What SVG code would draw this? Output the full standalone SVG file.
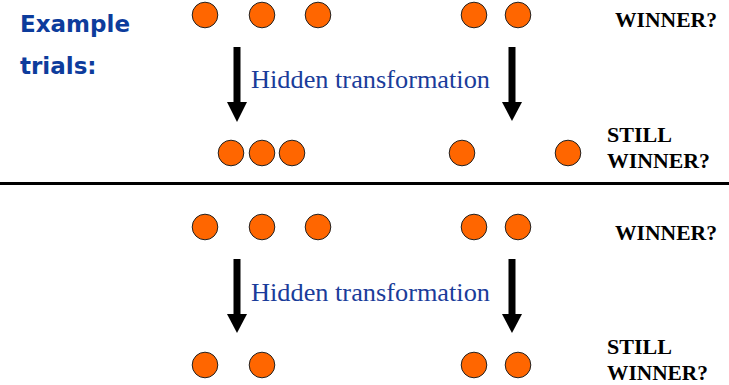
<svg xmlns="http://www.w3.org/2000/svg" width="729" height="385" viewBox="0 0 729 385">
  <defs>
    <style>
      .dot { fill: #ff6600; stroke: #222; stroke-width: 1; }
      .shaft { stroke: #000; stroke-width: 7; fill: none; }
      .head { fill: #000; }
      .hidden { font-family: "Liberation Serif", "Times New Roman", serif; font-size: 25px; fill: #1a3c9a; }
      .q { font-family: "Liberation Serif", "Times New Roman", serif; font-size: 20px; font-weight: bold; fill: #000; }
      .title { font-family: "DejaVu Sans", Verdana, sans-serif; font-size: 23px; font-weight: bold; fill: #0d3c9c; }
    </style>
    <symbol id="dot" overflow="visible">
      <circle class="dot" cx="0" cy="0" r="12.8"/>
    </symbol>
  </defs>

  <rect width="729" height="385" fill="#fff"/>

  <g id="heading">
    <text class="title" x="20" y="32">Example</text>
    <text class="title" x="20" y="74">trials:</text>
  </g>

  <!-- first trial -->
  <g id="trial1-before">
    <use href="#dot" x="205" y="15"/>
    <use href="#dot" x="262" y="15"/>
    <use href="#dot" x="318" y="15"/>
    <use href="#dot" x="474" y="15"/>
    <use href="#dot" x="518" y="15"/>
  </g>
  <g id="trial1-after">
    <use href="#dot" x="231" y="153"/>
    <use href="#dot" x="262" y="153"/>
    <use href="#dot" x="292" y="153"/>
    <use href="#dot" x="462" y="153"/>
    <use href="#dot" x="568" y="153"/>
  </g>
  <g id="trial1-labels">
    <text class="hidden" x="251" y="88" textLength="239" lengthAdjust="spacingAndGlyphs">Hidden transformation</text>
    <text class="q" x="615" y="27" textLength="102" lengthAdjust="spacingAndGlyphs">WINNER?</text>
    <text class="q" x="607" y="142" textLength="65" lengthAdjust="spacingAndGlyphs">STILL</text>
    <text class="q" x="607" y="168" textLength="103" lengthAdjust="spacingAndGlyphs">WINNER?</text>
  </g>

  <!-- divider -->
  <line x1="0" y1="183.5" x2="729" y2="183.5" stroke="#000" stroke-width="3"/>

  <!-- second trial -->
  <g id="trial2-before">
    <use href="#dot" x="205" y="227"/>
    <use href="#dot" x="262" y="227"/>
    <use href="#dot" x="318" y="227"/>
    <use href="#dot" x="474" y="227"/>
    <use href="#dot" x="518" y="227"/>
  </g>
  <g id="trial2-after">
    <use href="#dot" x="205" y="365"/>
    <use href="#dot" x="262" y="365"/>
    <use href="#dot" x="474" y="365"/>
    <use href="#dot" x="518" y="365"/>
  </g>
  <g id="trial2-labels">
    <text class="hidden" x="251" y="301" textLength="239" lengthAdjust="spacingAndGlyphs">Hidden transformation</text>
    <text class="q" x="615" y="240" textLength="102" lengthAdjust="spacingAndGlyphs">WINNER?</text>
    <text class="q" x="607" y="354" textLength="65" lengthAdjust="spacingAndGlyphs">STILL</text>
    <text class="q" x="607" y="380" textLength="101" lengthAdjust="spacingAndGlyphs">WINNER?</text>
  </g>

  <!-- transformation arrows -->
  <g id="connectors">
    <line class="shaft" x1="237" y1="47" x2="237" y2="104"/>
    <polygon class="head" points="227,102 247,102 237,122"/>
    <line class="shaft" x1="512" y1="47" x2="512" y2="104"/>
    <polygon class="head" points="502,102 522,102 512,121"/>
    <line class="shaft" x1="237" y1="259" x2="237" y2="316"/>
    <polygon class="head" points="227,314 247,314 237,333"/>
    <line class="shaft" x1="512" y1="259" x2="512" y2="316"/>
    <polygon class="head" points="502,314 522,314 512,333"/>
  </g>
</svg>
